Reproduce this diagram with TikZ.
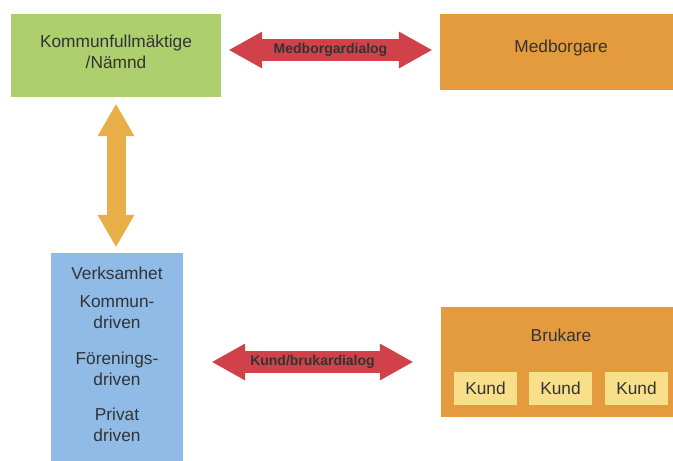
\documentclass[tikz,border=0pt]{standalone}
\usepackage{fontspec}
\setmainfont{Liberation Sans}
\usetikzlibrary{arrows.meta}
\definecolor{kfgreen}{HTML}{AECF6E}
\definecolor{boxorange}{HTML}{E39B3E}
\definecolor{verkblue}{HTML}{8FBBE6}
\definecolor{kundyellow}{HTML}{F9DF8A}
\definecolor{dialogred}{HTML}{D0414A}
\definecolor{linkorange}{HTML}{E8AE48}
\definecolor{txtgray}{HTML}{333333}
\tikzset{
  box/.style={inner sep=0pt, align=center, text=txtgray, font=\fontsize{17.3}{21}\selectfont},
  txt/.style={inner sep=0pt, align=center, text=txtgray, font=\fontsize{17.3}{21}\selectfont},
  dialog/.style={line width=22pt, dialogred,
    {Triangle[length=33pt,width=37pt,line width=0pt]}-{Triangle[length=33pt,width=37pt,line width=0pt]}},
  dialoglabel/.style={text=txtgray, font=\fontsize{14}{16}\selectfont\bfseries},
  link/.style={line width=19pt, linkorange,
    {Triangle[length=32pt,width=37pt,line width=0pt]}-{Triangle[length=32pt,width=37pt,line width=0pt]}}
}
\begin{document}
\begin{tikzpicture}[x=1pt, y=-1pt]
  \useasboundingbox[fill=white] (0,0) rectangle (673,461);
  % Rutor
  \node[box, fill=kfgreen, minimum width=210pt, minimum height=83pt] (kf) at (116,55.5) {};
  \node[txt] (kftext) at (116,52) {Kommunfullmäktige\\/Nämnd};
  \node[box, fill=boxorange, minimum width=242pt, minimum height=76pt] (med) at (561,52) {};
  \node[txt] (medtext) at (561,48) {Medborgare};
  \node[box, fill=verkblue, minimum width=132pt, minimum height=218pt] (verk) at (117,362) {};
  \node[box, fill=boxorange, minimum width=240pt, minimum height=110pt] (bruk) at (561,362) {};
  % Texter i rutorna
  \node[txt] (verktitle) at (117,273) {Verksamhet};
  \node[txt] (kommun) at (117,312.5) {Kommun-\\driven};
  \node[txt] (forening) at (117,369) {Förenings-\\driven};
  \node[txt] (privat) at (117,424.5) {Privat\\driven};
  \node[txt] (bruktitle) at (561,335) {Brukare};
  \foreach \x/\name in {485.5/kunda, 560.5/kundb, 636.5/kundc}
    \node[box, fill=kundyellow, minimum width=63pt, minimum height=33pt] (\name) at (\x,388.5) {Kund};
  % Pilar
  \draw[dialog] ([shift={(8,-5.5)}]kf.east) -- ([shift={(-8,-2)}]med.west)
    node[midway, dialoglabel] (medlabel) {Medborgardialog};
  \draw[dialog] ([xshift=29pt]verk.east) -- ([xshift=-28pt]bruk.west)
    node[midway, dialoglabel] (kundlabel) {Kund/brukardialog};
  \draw[link] ([yshift=-7pt]kf.south) -- ([yshift=6pt]kf.south |- verk.north);
\end{tikzpicture}
\end{document}
